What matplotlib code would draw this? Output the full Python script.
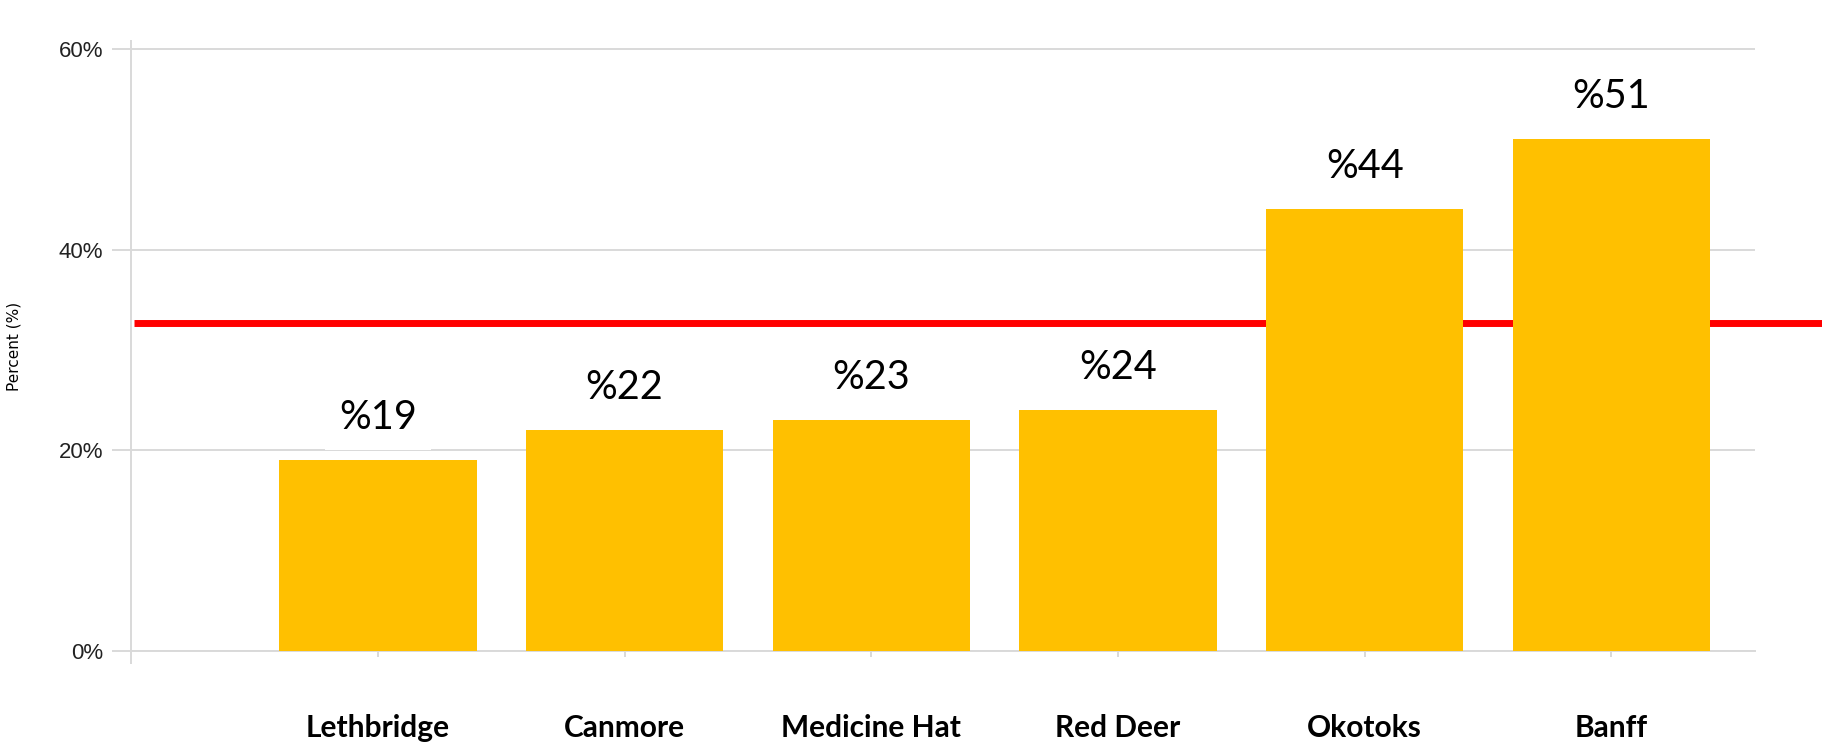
import matplotlib.pyplot as plt
import numpy as np

# data
cities = ['Lethbridge', 'Canmore', 'Medicine Hat', 'Red Deer', 'Okotoks', 'Banff']
percent = [19, 22, 23, 24, 44, 51]
value_labels = ['%19', '%22', '%23', '%24', '%44', '%51']
ref_line = 32.7
y_ticks = [0, 20, 40, 60]
y_tick_labels = ['0%', '20%', '40%', '60%']

grid_col = '#d9d9d9'
bar_col = '#FFC000'

fig = plt.figure(figsize=(18.22, 7.44), dpi=100)
ax = fig.add_axes([0.072, 0.125, 0.891, 0.82])

x = np.arange(len(cities))
bars = ax.bar(x, percent, width=0.8, color=bar_col, zorder=3)

# horizontal reference line, runs past the plot to the right edge
ax.axhline(ref_line, xmin=0.002, xmax=1.06, color='#FF0000', lw=5, zorder=2,
           clip_on=False, solid_capstyle='butt')

# value labels sitting in white boxes above each bar
for xi, v, lab in zip(x, percent, value_labels):
    ax.annotate(lab, (xi, v), xytext=(0, 31), textcoords='offset points',
                ha='center', va='center', fontsize=28.5, family='Lato',
                bbox=dict(boxstyle='square,pad=0.35', fc='white', ec='none'),
                zorder=4)

ax.set_xlim(-1.0, 5.58)
ax.set_ylim(0, 60.8)

ax.set_yticks(y_ticks)
ax.set_yticklabels(y_tick_labels, fontsize=16, family='Liberation Sans', color='#222222')
ax.yaxis.grid(True, color=grid_col, lw=1.4, zorder=0)
ax.tick_params(axis='y', length=14, width=1.4, color=grid_col, pad=6)

ax.set_xticks(x)
ax.set_xticklabels(cities, fontsize=21.5, fontweight='bold', family='Lato')
ax.tick_params(axis='x', length=4.5, width=1.4, color=grid_col, pad=41)

ax.set_ylabel('Percent (%)', fontsize=11, family='DejaVu Sans')
ax.yaxis.set_label_coords(-0.0677, 0.5)

for s in ['top', 'right']:
    ax.spines[s].set_visible(False)
ax.spines['bottom'].set_color(grid_col)
ax.spines['bottom'].set_linewidth(1.4)
ax.spines['left'].set_color(grid_col)
ax.spines['left'].set_linewidth(1.4)
ax.spines['left'].set_bounds(-1.2, 60.8)

fig.savefig('out.png', dpi=100)
